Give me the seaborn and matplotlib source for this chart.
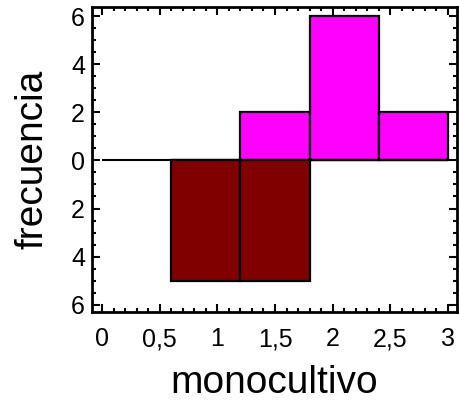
import numpy as np
import pandas as pd
import matplotlib
matplotlib.use("Agg")
import matplotlib.pyplot as plt
import seaborn as sns
from matplotlib.ticker import FuncFormatter, MultipleLocator

# Data
bin_edges = [0.6, 1.2, 1.8, 2.4, 3.0]
bin_centers = [0.9, 1.5, 2.1, 2.7]
upper_counts = [0, 2, 6, 2]      # magenta, above zero
lower_counts = [5, 5, 0, 0]      # maroon, below zero
x_ticks = [0, 0.5, 1, 1.5, 2, 2.5, 3]
y_ticks = [-6, -4, -2, 0, 2, 4, 6]

sns.set_style("white")
plt.rcParams['font.family'] = ['Liberation Sans', 'DejaVu Sans']
plt.rcParams['text.color'] = 'black'
plt.rcParams['axes.labelcolor'] = 'black'
plt.rcParams['xtick.color'] = 'black'
plt.rcParams['ytick.color'] = 'black'

fig = plt.figure(figsize=(4.6, 4.0), dpi=100)
ax = fig.add_axes([92/460, 1 - 312/400, (457-92)/460, (312-7)/400])

up = pd.DataFrame({"x": bin_centers, "w": upper_counts})
up = up[up.w != 0]
lo = pd.DataFrame({"x": bin_centers, "w": [-c for c in lower_counts]})
lo = lo[lo.w != 0]

ax.hlines(0, x_ticks[0], x_ticks[-1], color="black", linewidth=1.5, zorder=1)
sns.histplot(data=up, x="x", weights="w", bins=bin_edges, ax=ax,
             color="#FF00FF", alpha=1, edgecolor="black", linewidth=1.6, zorder=2)
sns.histplot(data=lo, x="x", weights="w", bins=bin_edges, ax=ax,
             color="#800000", alpha=1, edgecolor="black", linewidth=1.6, zorder=2)

ax.set_xlim(-0.087, 3.078)
ax.set_ylim(-6.3, 6.375)
ax.set_xticks(x_ticks)
ax.set_yticks(y_ticks)
ax.xaxis.set_minor_locator(MultipleLocator(0.1))
ax.yaxis.set_minor_locator(MultipleLocator(0.5))
ax.xaxis.set_major_formatter(FuncFormatter(lambda v, p: ("%g" % v).replace(".", ",")))
ax.yaxis.set_major_formatter(FuncFormatter(lambda v, p: "%g" % abs(v)))

ax.tick_params(which="both", direction="in", top=True, right=True, bottom=True, left=True,
               color="black", width=1.5)
ax.tick_params(which="major", length=6, labelsize=18)
ax.tick_params(axis="x", which="major", pad=11)
ax.tick_params(axis="y", which="major", pad=5)
ax.tick_params(which="minor", length=3)
for s in ax.spines.values():
    s.set_linewidth(2)
    s.set_color("black")

ax.set_xlabel("monocultivo", fontsize=28, labelpad=10)
ax.set_ylabel("frecuencia", fontsize=28, labelpad=15)

fig.savefig("out.png", dpi=100)
